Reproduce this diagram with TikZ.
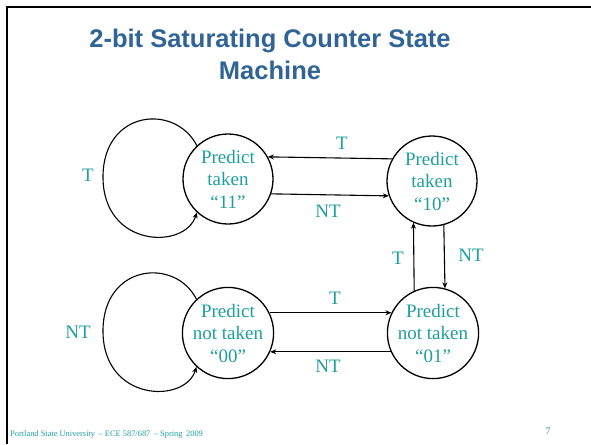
\documentclass[tikz,border=0pt]{standalone}
\usepackage{fontspec}
\setmainfont{Liberation Serif}
\newfontfamily\titlefont{Liberation Sans}
\usetikzlibrary{arrows.meta}
\definecolor{tealtxt}{RGB}{30,158,158}
\definecolor{titleblue}{RGB}{48,100,150}
\tikzset{
  state/.style={circle,draw,line width=1.3pt,minimum size=90pt,inner sep=0pt,
    align=center,text=tealtxt,font=\fontsize{19}{22.5}\selectfont},
  lbl/.style={text=tealtxt,font=\fontsize{19}{22}\selectfont,inner sep=0pt},
  conn/.style={line width=1.1pt,-{Stealth[length=6pt,width=5pt]}},
}
\begin{document}
\begin{tikzpicture}[x=1pt,y=-1pt]
\useasboundingbox (0,0) rectangle (591,444);
\draw[line width=2.5pt] (7,444) -- (7,7) -- (591,7);
\node[font=\titlefont\bfseries\fontsize{25.5}{32}\selectfont,text=titleblue,align=center] (title) at (270,54)
  {2-bit Saturating Counter State\\Machine};
\node[state] (s11) at (228,179) {Predict\\taken\\``11''};
\node[state] (s10) at (432,181) {Predict\\taken\\``10''};
\node[state] (s00) at (228,333) {Predict\\not taken\\``00''};
\node[state] (s01) at (433,333) {Predict\\not taken\\``01''};
% self loops
\draw[conn] (s11.133) .. controls (175,103) and (103,110) .. (103,177)
   .. controls (103,248) and (185,250) .. (s11.-133);
\draw[conn] (s00.133) .. controls (175,257) and (103,264) .. (103,331)
   .. controls (103,402) and (185,404) .. (s00.-133);
\node[lbl] (l11) at (88,175) {T};
\node[lbl] (l00) at (78,332) {NT};
% top pair
\draw[conn] (s10.151) -- (s11.29);
\draw[conn] (s11.-19) -- (s10.-161);
\node[lbl] (lt1) at (342,143) {T};
\node[lbl] (lnt1) at (328,211) {NT};
% vertical pair
\draw[conn] (s01.114) -- (s10.246);
\draw[conn] (s10.285) -- (s01.75);
\node[lbl] (lt2) at (398,258) {T};
\node[lbl] (lnt2) at (471,255) {NT};
% bottom pair
\draw[conn] (s00.26) -- (s01.154);
\draw[conn] (s01.204) -- (s00.-24);
\node[lbl] (lt3) at (335,298) {T};
\node[lbl] (lnt3) at (328,366) {NT};
% footer
\node[anchor=base west,text=tealtxt,font=\fontsize{8.4}{10}\selectfont,inner sep=0pt] (foot) at (10,436)
  {Portland State University \,-- ECE 587/687 \,-- Spring \,2009};
\node[anchor=base,text=tealtxt,font=\fontsize{10}{12}\selectfont,inner sep=0pt] (pg) at (548,434) {7};
\end{tikzpicture}
\end{document}
